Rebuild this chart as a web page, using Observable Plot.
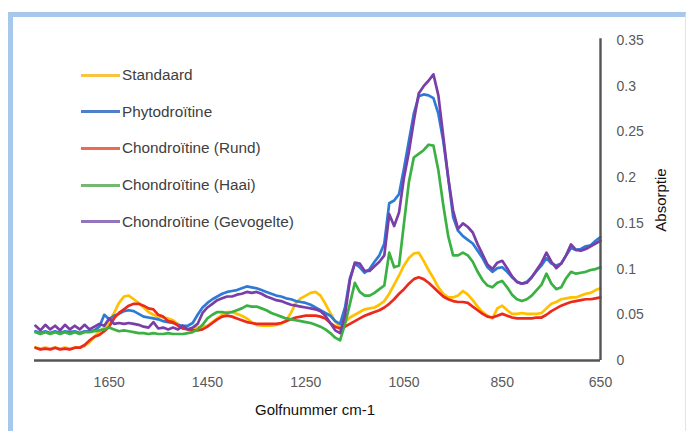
<!DOCTYPE html>
<html><head><meta charset="utf-8">
<script src="https://cdn.jsdelivr.net/npm/d3@7"></script>
<script src="https://cdn.jsdelivr.net/npm/@observablehq/plot@0.6"></script>
<style>
html,body{margin:0;padding:0;background:#fff;}
#wrap{position:relative;width:688px;height:431px;overflow:hidden;font-family:"Liberation Sans",Arial,sans-serif;}
#frame{position:absolute;left:8px;top:12px;width:672px;height:440px;border-left:5px solid #a7c8eb;border-top:5px solid #a7c8eb;border-right:1px solid #dbe6f2;}
#chart{position:absolute;left:0;top:0;}
.lg-line{position:absolute;left:81px;width:39px;height:3px;}
.lg-text{position:absolute;left:122px;font-size:15.3px;color:#404040;line-height:18px;white-space:nowrap;}
#xtitle{position:absolute;left:215px;width:200px;top:401px;text-align:center;font-size:15px;color:#111;line-height:18px;}
#ytitle{position:absolute;left:661px;top:200px;transform:translate(-50%,-50%) rotate(-90deg);font-size:15px;color:#111;white-space:nowrap;line-height:18px;}
</style></head>
<body>
<div id="wrap"><div id="frame"></div><div id="chart"></div></div>
<script>
const seriesNames = ["Standaard","Phytodroïtine","Chondroïtine (Rund)","Chondroïtine (Haai)","Chondroïtine (Gevogelte)"];
const lineColors = ["#ffc000","#2e7bd6","#ec2a1c","#3bb143","#7a3ea8"];
const legendColors = ["#fbc440","#4d80c8","#ec6b52","#74b96f","#9375bd"];

const wavenumbers = [
 1800,1790,1780,1770,1760,1750,1740,1730,1720,1710,
 1700,1690,1680,1670,1660,1650,1640,1630,1620,1610,
 1600,1590,1580,1570,1560,1550,1540,1530,1520,1510,
 1500,1490,1480,1470,1460,1450,1440,1430,1420,1410,
 1400,1390,1380,1370,1360,1350,1340,1330,1320,1310,
 1300,1290,1280,1270,1260,1250,1240,1230,1220,1210,
 1200,1190,1180,1170,1160,1150,1140,1130,1120,1110,
 1100,1090,1080,1070,1060,1050,1040,1030,1020,1010,
 1000,990,980,970,960,950,940,930,920,910,
 900,890,880,870,860,850,840,830,820,810,
 800,790,780,770,760,750,740,730,720,710,
 700,690,680,670,660,650];

const standaard = [
 .014,.013,.014,.013,.014,.013,.014,.013,.014,.014,
 .016,.020,.026,.032,.036,.042,.052,.063,.070,.071,
 .067,.063,.058,.053,.050,.048,.047,.046,.044,.040,
 .035,.035,.035,.036,.037,.038,.042,.046,.050,.053,
 .053,.051,.049,.046,.042,.039,.038,.038,.038,.039,
 .040,.044,.052,.063,.068,.071,.074,.075,.071,.062,
 .052,.043,.036,.042,.047,.050,.053,.056,.057,.058,
 .061,.065,.073,.083,.093,.104,.112,.117,.118,.109,
 .099,.090,.080,.073,.069,.069,.071,.076,.072,.066,
 .059,.053,.049,.046,.057,.060,.055,.051,.051,.052,
 .051,.051,.051,.052,.057,.062,.064,.067,.068,.069,
 .069,.071,.073,.074,.077,.079];

const phyto = [
 .032,.030,.032,.030,.032,.030,.032,.031,.032,.030,
 .032,.032,.033,.037,.050,.045,.049,.051,.054,.055,
 .054,.051,.048,.047,.046,.045,.043,.042,.041,.039,
 .038,.038,.041,.050,.058,.063,.067,.070,.073,.075,
 .076,.077,.079,.081,.080,.079,.077,.075,.073,.071,
 .070,.068,.067,.065,.064,.063,.061,.058,.055,.052,
 .049,.043,.040,.058,.090,.106,.102,.096,.100,.108,
 .115,.128,.172,.175,.182,.210,.240,.270,.289,.291,
 .290,.287,.270,.240,.200,.157,.142,.136,.132,.128,
 .120,.112,.102,.097,.101,.102,.097,.091,.086,.084,
 .086,.091,.098,.104,.112,.106,.104,.106,.115,.123,
 .121,.122,.125,.126,.131,.135];

const rund = [
 .014,.012,.013,.012,.014,.012,.013,.012,.014,.014,
 .017,.022,.026,.028,.032,.037,.046,.052,.056,.060,
 .062,.062,.060,.057,.056,.050,.048,.043,.042,.038,
 .035,.034,.033,.033,.034,.037,.041,.045,.048,.049,
 .048,.046,.044,.042,.041,.040,.040,.040,.040,.040,
 .041,.043,.045,.047,.048,.049,.049,.049,.048,.046,
 .041,.037,.035,.037,.040,.043,.046,.049,.051,.053,
 .055,.058,.062,.067,.073,.078,.084,.089,.091,.089,
 .085,.080,.075,.070,.067,.065,.064,.064,.063,.059,
 .055,.051,.048,.047,.049,.051,.049,.047,.046,.046,
 .046,.046,.047,.047,.050,.054,.057,.060,.062,.064,
 .065,.066,.067,.067,.068,.069];

const haai = [
 .031,.029,.031,.029,.031,.029,.031,.029,.031,.029,
 .031,.031,.032,.033,.034,.036,.034,.032,.033,.032,
 .031,.030,.030,.029,.030,.029,.029,.030,.029,.029,
 .029,.030,.031,.034,.039,.046,.050,.053,.053,.052,
 .053,.055,.057,.060,.059,.059,.057,.055,.052,.050,
 .048,.046,.045,.044,.043,.042,.041,.039,.037,.034,
 .030,.025,.022,.040,.062,.085,.075,.071,.071,.074,
 .078,.082,.118,.102,.104,.150,.195,.222,.226,.230,
 .236,.235,.208,.170,.136,.115,.115,.118,.115,.108,
 .097,.088,.082,.080,.085,.087,.080,.072,.067,.065,
 .067,.071,.077,.083,.095,.084,.078,.080,.090,.097,
 .095,.096,.097,.099,.100,.102];

const gevogelte = [
 .038,.033,.039,.034,.038,.033,.039,.034,.038,.034,
 .039,.034,.037,.040,.038,.046,.040,.041,.040,.041,
 .040,.039,.037,.036,.042,.035,.036,.034,.036,.034,
 .038,.034,.036,.040,.052,.058,.062,.066,.068,.070,
 .070,.072,.073,.075,.074,.075,.073,.070,.068,.066,
 .065,.063,.061,.060,.059,.058,.057,.056,.054,.049,
 .041,.033,.030,.050,.088,.107,.106,.098,.098,.103,
 .108,.115,.160,.147,.162,.200,.228,.262,.292,.300,
 .306,.313,.290,.245,.200,.164,.144,.150,.146,.140,
 .127,.116,.105,.100,.107,.109,.101,.092,.086,.084,
 .085,.091,.099,.107,.118,.108,.101,.106,.115,.127,
 .121,.120,.122,.125,.128,.131];

const xTicks = [1650,1450,1250,1050,850,650];
const yTicks = [0,0.05,0.1,0.15,0.2,0.25,0.3,0.35];

const allSeries = [standaard, phyto, rund, haai, gevogelte];
const rows = [];
allSeries.forEach((vals, si) => {
  vals.forEach((v, i) => rows.push({series: seriesNames[si], wn: wavenumbers[i], v}));
});

const chart = Plot.plot({
  width: 688, height: 431,
  marginLeft: 34, marginRight: 88, marginTop: 40, marginBottom: 71,
  style: {fontFamily: '"Liberation Sans", Arial, sans-serif', fontSize: "14px", background: "transparent", overflow: "visible"},
  x: {domain: [1802, 650]},
  y: {domain: [0, 0.35]},
  color: {domain: seriesNames, range: lineColors},
  marks: [
    Plot.line(rows, {x: "wn", y: "v", z: "series", stroke: "series", strokeWidth: 2.7, strokeLinejoin: "round"}),
    Plot.ruleY([0], {x1: 1802, x2: 650, stroke: "#555", strokeWidth: 2.4}),
    Plot.ruleX([650], {y1: 0, y2: 0.352, stroke: "#555", strokeWidth: 2.4}),
    Plot.axisX({ticks: xTicks, tickSize: 0, tickPadding: 17, tickFormat: d => String(d), fill: "#595959", label: null, fontSize: 14}),
    Plot.axisY({anchor: "right", ticks: yTicks, tickSize: 0, tickPadding: 16, textAnchor: "start", tickFormat: d => String(+d.toFixed(2)), fill: "#595959", label: null, fontSize: 14})
  ]
});
document.getElementById("chart").appendChild(chart);

const wrap = document.getElementById("wrap");
seriesNames.forEach((name, i) => {
  const cy = 75 + i * 36.7;
  const ln = document.createElement("div");
  ln.className = "lg-line";
  ln.style.top = (cy - 1.5) + "px";
  ln.style.background = legendColors[i];
  wrap.appendChild(ln);
  const tx = document.createElement("div");
  tx.className = "lg-text";
  tx.style.top = (cy - 9) + "px";
  tx.textContent = name;
  wrap.appendChild(tx);
});
const xt = document.createElement("div"); xt.id = "xtitle"; xt.textContent = "Golfnummer cm-1"; wrap.appendChild(xt);
const yt = document.createElement("div"); yt.id = "ytitle"; yt.textContent = "Absorptie"; wrap.appendChild(yt);
</script>
</body></html>
